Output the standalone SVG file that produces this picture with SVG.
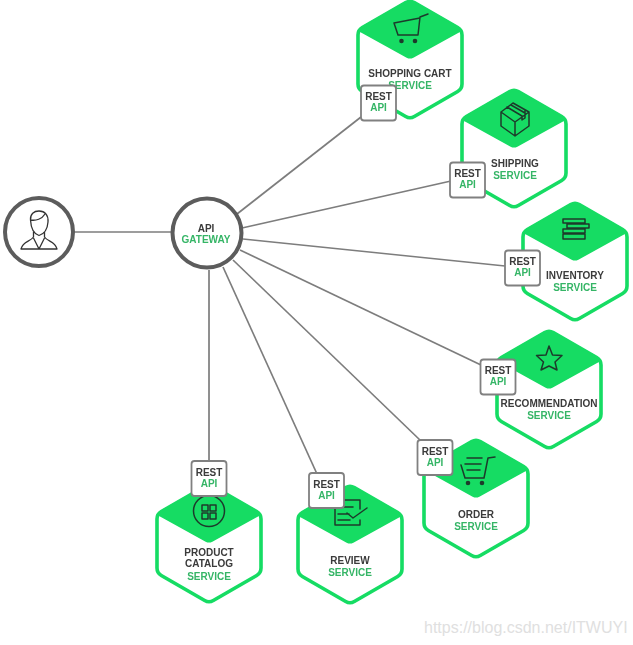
<svg xmlns="http://www.w3.org/2000/svg" width="633" height="645" viewBox="0 0 633 645">
<style>
text{font-family:"Liberation Sans",Arial,sans-serif;font-weight:700;font-size:10px;text-anchor:middle}
.k{fill:#3a3a3a}.g{fill:#35b566}
.hexo{fill:#fff;stroke:#14dc63;stroke-width:3.6;stroke-linejoin:round}
.hext{fill:#14dc63;stroke:#14dc63;stroke-width:1.5;stroke-linejoin:round}
.ico{fill:none;stroke:#1f3a2c;stroke-width:1.5;stroke-linejoin:round;stroke-linecap:round}
.dot{fill:#1f3a2c}
.conn{stroke:#7d7d7d;stroke-width:1.7;fill:none}
.box{fill:#fff;stroke:#808080;stroke-width:1.8}
.circ{fill:#fff;stroke:#5c5c5c;stroke-width:4}
.usr{fill:none;stroke:#333;stroke-width:1.3;stroke-linejoin:round}
.wm{font-weight:400;font-size:16px;fill:#e0e0e0;text-anchor:start}
</style>
<defs>
<filter id="soft" x="-2%" y="-2%" width="104%" height="104%"><feGaussianBlur stdDeviation="0.55"/></filter>
<g id="hex">
<path class="hexo" d="M-4.300 2.500Q0 0 4.300 2.500L47.700 27.500Q52 30 52 35V84Q52 89 47.700 91.500L4.300 116.500Q0 119 -4.300 116.500L-47.700 91.500Q-52 89 -52 84V35Q-52 30 -47.700 27.500Z"/>
<path class="hext" d="M-4.300 2.500Q0 0 4.300 2.500L49 28Q52 30 50 31L3 57Q0 58.500 -3 57L-50 31Q-52 30 -49 28Z"/>
</g>
<g id="badge">
<rect class="box" x="-17.500" y="-17.500" width="35" height="35" rx="3"/>
<text class="k" y="-3">REST</text>
<text class="g" y="8">API</text>
</g>
</defs>
<rect width="633" height="645" fill="#fff"/>
<g filter="url(#soft)">
<g id="connectors">
<line class="conn" x1="74" y1="232" x2="172" y2="232"/>
<line class="conn" x1="237" y1="214" x2="361" y2="117"/>
<line class="conn" x1="242" y1="228" x2="451" y2="181"/>
<line class="conn" x1="243" y1="239" x2="505" y2="266"/>
<line class="conn" x1="240" y1="250" x2="481" y2="365"/>
<line class="conn" x1="233" y1="260" x2="421" y2="441"/>
<line class="conn" x1="223" y1="267" x2="317" y2="474"/>
<line class="conn" x1="209" y1="270" x2="209" y2="462"/>
</g>
<g id="user">
<circle class="circ" cx="39" cy="232" r="34"/>
<path class="usr" d="M30.500 220C30 214 34 211 39 211C45 211 48.500 215 48 222C47.500 229 44 234 39 235.500C34 234 31 229 30.500 220ZM30.500 220C36 221 42 219 45 214"/>
<path class="usr" d="M33.500 232V237C30 242 23 241 21 249H57C55 241 48 242 44.500 237V232M33.500 238L39 249L44.500 238"/>
</g>
<g id="gateway">
<circle class="circ" cx="207" cy="233" r="34.500"/>
<text class="k" x="206" y="232">API</text>
<text class="g" x="206" y="243">GATEWAY</text>
</g>
<g id="shopping-cart">
<use href="#hex" x="410" y="0"/>
<path class="ico" d="M428 14L420 17L418 35H398L394 23L420 18"/>
<circle class="dot" cx="401.500" cy="41" r="2.300"/><circle class="dot" cx="415" cy="41" r="2.300"/>
<text class="k" x="410" y="77">SHOPPING CART</text>
<text class="g" x="410" y="89">SERVICE</text>
</g>
<g id="shipping">
<use href="#hex" x="514" y="89"/>
<path class="ico" d="M501 112L513 103L529 112V126L515 136L501 126ZM501 112L515 122L529 112M515 122V136M507 107L522 116V120L525 118V110M511 105L525 113"/>
<text class="k" x="515" y="167">SHIPPING</text>
<text class="g" x="515" y="179">SERVICE</text>
</g>
<g id="inventory">
<use href="#hex" x="575" y="202"/>
<path class="ico" d="M563 219H585V223H563ZM567 224H589V228H567ZM563 229H585V233H563ZM563 234H585V239H563Z"/>
<text class="k" x="575" y="279">INVENTORY</text>
<text class="g" x="575" y="291">SERVICE</text>
</g>
<g id="recommendation">
<use href="#hex" x="549" y="330"/>
<path class="ico" d="M549 346L552.500 355L562 355.500L555 362L557 370L549 366L541 370L543.500 362L536.500 355.500L546 355Z"/>
<text class="k" x="549" y="407">RECOMMENDATION</text>
<text class="g" x="549" y="419">SERVICE</text>
</g>
<g id="order">
<use href="#hex" x="476" y="439"/>
<path class="ico" d="M495 457L488 458L484 478H465L461 465M467 458H482M465 464H481M467 470H480"/>
<circle class="dot" cx="468" cy="483" r="2.300"/><circle class="dot" cx="482" cy="483" r="2.300"/>
<text class="k" x="476" y="518">ORDER</text>
<text class="g" x="476" y="530">SERVICE</text>
</g>
<g id="product-catalog">
<use href="#hex" x="209" y="484"/>
<circle class="ico" cx="209" cy="511" r="15.500"/>
<path class="ico" d="M202 505H208V511H202ZM210 505H216V511H210ZM202 513H208V519H202ZM210 513H216V519H210Z"/>
<text class="k" x="209" y="556">PRODUCT</text>
<text class="k" x="209" y="567">CATALOG</text>
<text class="g" x="209" y="580">SERVICE</text>
</g>
<g id="review">
<use href="#hex" x="350" y="485"/>
<path class="ico" d="M335 504V525H360V520M343 500H360V509M342 507H353M338 514H349M338 520H350M347 513L353 518L367 508"/>
<text class="k" x="350" y="564">REVIEW</text>
<text class="g" x="350" y="576">SERVICE</text>
</g>
<g id="badges">
<use href="#badge" x="378.500" y="103"/>
<use href="#badge" x="467.500" y="180"/>
<use href="#badge" x="522.500" y="268"/>
<use href="#badge" x="498" y="377"/>
<use href="#badge" x="435" y="457.500"/>
<use href="#badge" x="209" y="478.500"/>
<use href="#badge" x="326.500" y="490.500"/>
</g>
</g>
<text class="wm" x="424" y="633">https://blog.csdn.net/ITWUYI</text>
</svg>
